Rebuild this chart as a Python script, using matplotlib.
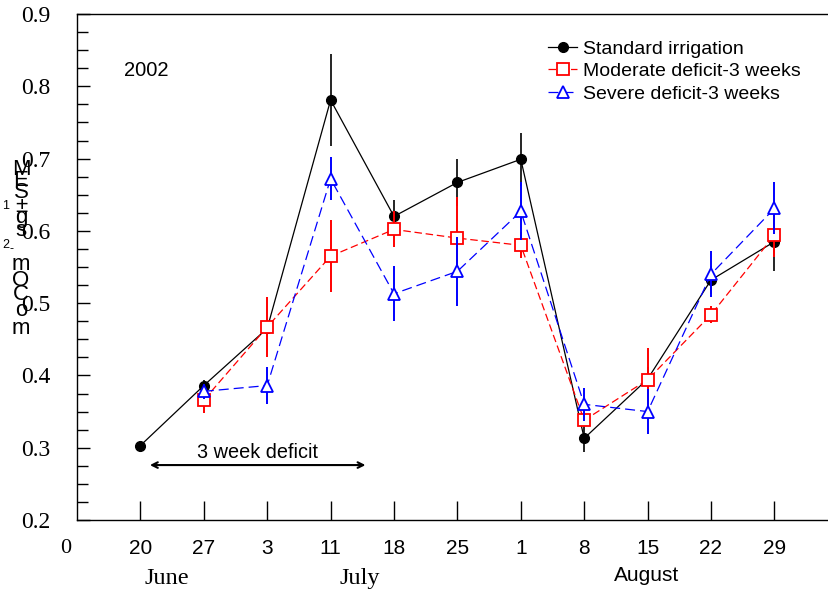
import numpy as np
import matplotlib
matplotlib.use('Agg')
import matplotlib.pyplot as plt
from matplotlib.transforms import ScaledTranslation

# Sampling dates (tick labels) and their positions on the x axis
date_labels = ['0', '20', '27', '3', '11', '18', '25', '1', '8', '15', '22', '29']
date_pos = np.arange(0, 12)

# Standard irrigation (all dates from 20 June)
std_x = np.arange(1, 12)
std_y = [0.303, 0.386, 0.465, 0.781, 0.620, 0.667, 0.699, 0.313, 0.395, 0.532, 0.585]
std_se = [0.004, 0.008, 0.006, 0.064, 0.022, 0.033, 0.037, 0.019, 0.017, 0.020, 0.040]

# Moderate deficit - 3 weeks (from 27 June)
mod_x = np.arange(2, 12)
mod_y = [0.366, 0.467, 0.565, 0.602, 0.590, 0.580, 0.338, 0.394, 0.484, 0.594]
mod_se = [0.018, 0.042, 0.050, 0.025, 0.057, 0.018, 0.010, 0.044, 0.012, 0.030]

# Severe deficit - 3 weeks (from 27 June)
sev_x = np.arange(2, 12)
sev_y = [0.378, 0.386, 0.672, 0.513, 0.544, 0.627, 0.360, 0.350, 0.540, 0.631]
sev_se = [0.010, 0.025, 0.030, 0.038, 0.048, 0.040, 0.023, 0.031, 0.032, 0.036]

series_labels = ['Standard irrigation', 'Moderate deficit-3 weeks', 'Severe deficit-3 weeks']

# stacked glyphs of the y-axis title
ylab_glyphs = ['M', 'E', 'S', '±', 'g', 's', 'm', 'O', 'C', 'o', 'm']
ylab_px = [170, 181, 193, 206, 218, 230, 264, 280, 294, 310, 328]

W, H = 829, 594
fig = plt.figure(figsize=(W / 100, H / 100), dpi=100)
ax = fig.add_axes([77 / W, 74 / H, 12.5 * 63.4 / W, (520 - 14) / H])

c1 = ax.errorbar(std_x, std_y, yerr=std_se, color='black', ecolor='black', elinewidth=1.2,
                 lw=0.9, marker='o', ms=7, mfc='black', mec='black', capsize=0, zorder=3)
c2 = ax.errorbar(mod_x, mod_y, yerr=mod_se, color='red', ecolor='red', elinewidth=1.4,
                 lw=0.9, ls=(0, (6, 3)), marker='s', ms=8, mfc='white', mec='red', mew=1.3,
                 capsize=0, zorder=4)
c3 = ax.errorbar(sev_x, sev_y, yerr=sev_se, color='blue', ecolor='blue', elinewidth=1.4,
                 lw=0.9, ls=(0, (8, 4)), marker='^', ms=8, mfc='white', mec='blue', mew=1.3,
                 capsize=0, zorder=5)

ax.set_xlim(0, 12.5)
ax.set_ylim(0.2, 0.9)

ax.spines['right'].set_visible(False)
for s in ['left', 'bottom', 'top']:
    ax.spines[s].set_linewidth(1.0)

ax.set_yticks(np.arange(0.2, 0.91, 0.1))
ax.set_yticks(np.arange(0.2, 0.9, 0.025), minor=True)
ax.set_yticklabels(['%.1f' % v for v in np.arange(0.2, 0.91, 0.1)],
                   family=['Liberation Serif', 'DejaVu Serif'], fontsize=17)
ax.tick_params(axis='y', which='both', direction='in', right=False, pad=19)
ax.tick_params(axis='y', which='major', length=9, width=1.0)
ax.tick_params(axis='y', which='minor', length=8, width=1.0)

ax.set_xticks(date_pos)
ax.set_xticklabels(date_labels, family=['Liberation Sans Narrow', 'Liberation Sans'],
                   fontsize=15)
ax.tick_params(axis='x', which='both', direction='in', top=False, length=14, width=1.0, pad=14)
# first label sits at the corner, left of the axis line
zero = ax.get_xticklabels()[0]
zero.set_family(['Liberation Serif', 'DejaVu Serif'])
zero.set_fontsize(16)
zero.set_transform(zero.get_transform() + ScaledTranslation(-0.11, 0, fig.dpi_scale_trans))
ax.xaxis.get_major_ticks()[0].tick1line.set_visible(False)

# month names under the dates
ax.text(1.42, -0.115, 'June', transform=ax.get_xaxis_transform(), ha='center', va='center',
        family=['Liberation Serif'], fontsize=17.5)
ax.text(4.46, -0.115, 'July', transform=ax.get_xaxis_transform(), ha='center', va='center',
        family=['Liberation Serif'], fontsize=17.5)
ax.text(8.99, -0.109, 'August', transform=ax.get_xaxis_transform(), ha='center', va='center',
        family=['Liberation Sans Narrow', 'Liberation Sans'], fontsize=15)

ax.text(1.09, 0.822, '2002', ha='center', va='center', family=['Liberation Sans'], fontsize=14.5)

# deficit period arrow
ax.annotate('', xy=(1.15, 0.276), xytext=(4.55, 0.276),
            arrowprops=dict(arrowstyle='<->', color='black', lw=1.5, shrinkA=0, shrinkB=0))
ax.text(2.85, 0.294, '3 week deficit', ha='center', va='center',
        family=['Liberation Sans'], fontsize=14.3)

# y-axis title drawn as a stack of glyphs
for g, py in zip(ylab_glyphs, ylab_px):
    fig.text(21 / W, 1 - py / H, g, ha='center', va='center',
             family=['Liberation Sans', 'DejaVu Sans'], fontsize=16)
fig.text(6 / W, 1 - 206 / H, '1', ha='center', va='center', family=['Liberation Sans'], fontsize=9)
fig.text(6 / W, 1 - 245 / H, '2', ha='center', va='center', family=['Liberation Sans'], fontsize=9)
fig.text(12 / W, 1 - 249 / H, '-', ha='center', va='center', family=['Liberation Sans'], fontsize=9)

ax.legend(handles=[c1[0], c2[0], c3[0]], labels=series_labels,
          loc='upper left', bbox_to_anchor=(548 / W, 1 - 40 / H), bbox_transform=fig.transFigure,
          frameon=False, handlelength=1.5, handletextpad=0.3, labelspacing=0.25,
          borderaxespad=0, borderpad=0, prop={'family': 'Liberation Sans', 'size': 14})

fig.savefig('out.png', dpi=100)
